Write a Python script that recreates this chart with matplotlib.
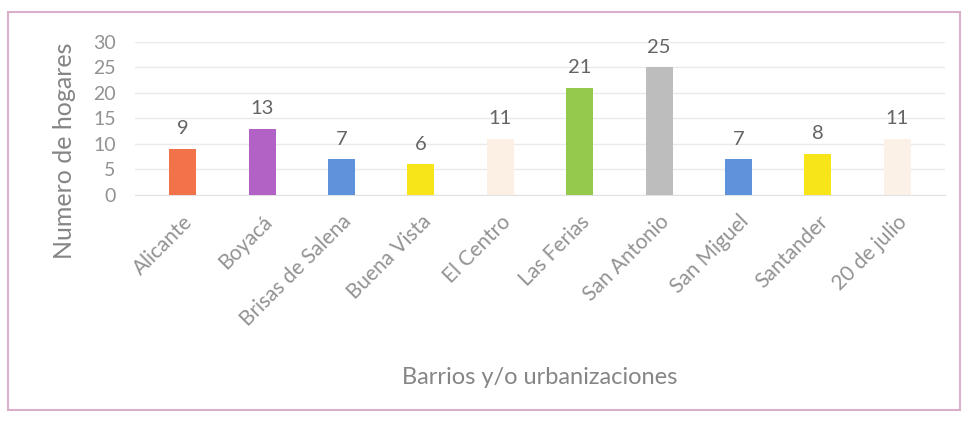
import matplotlib
matplotlib.use("Agg")
from matplotlib import pyplot as plt
from matplotlib.patches import Rectangle

# datos del grafico
barrios = ["Alicante", "Boyacá", "Brisas de Salena", "Buena Vista", "El Centro",
           "Las Ferias", "San Antonio", "San Miguel", "Santander", "20 de julio"]
hogares = [9, 13, 7, 6, 11, 21, 25, 7, 8, 11]
colores = ["#F2734A", "#B162C4", "#5E93DB", "#F7E51A", "#FCEFE4",
           "#95C94E", "#BDBDBD", "#5E93DB", "#F7E51A", "#FCF1E6"]
yticks = [0, 5, 10, 15, 20, 25, 30]

plt.rcParams["font.family"] = ["Lato", "DejaVu Sans"]

fig = plt.figure(figsize=(9.66, 4.23), dpi=100)
fig.patch.set_facecolor("white")

# marco del grafico
marco = Rectangle((8 / 966, 1 - 410 / 423), 952 / 966, 398 / 423,
                  transform=fig.transFigure, fill=False,
                  edgecolor="#D9AFCB", linewidth=1.5)
fig.add_artist(marco)

ax = fig.add_axes([0.140, 0.539, 0.838, 0.362])
x = range(len(barrios))
bars = ax.bar(x, hogares, width=0.34, color=colores, zorder=3)
for b, v in zip(bars, hogares):
    ax.text(b.get_x() + b.get_width() / 2, v + 2.3, str(v),
            ha="center", va="bottom", fontsize=14.5, color="#646464")

ax.set_ylim(0, 30)
ax.set_xlim(-0.6, len(barrios) - 0.4)
ax.set_yticks(yticks)
ax.yaxis.grid(True, color="#EAEAEA", linewidth=1, zorder=0)
for s in ["top", "right", "left"]:
    ax.spines[s].set_visible(False)
ax.spines["bottom"].set_color("#E2E2E2")
ax.tick_params(axis="both", length=0, colors="#929292", labelsize=14)
ax.tick_params(axis="y", pad=14)
ax.set_xticks(list(x))
ax.set_xticklabels(barrios, rotation=45, ha="right", rotation_mode="anchor",
                   fontsize=15, color="#929292")
ax.tick_params(axis="x", pad=12)

ax.set_ylabel("Numero de hogares", fontsize=18, color="#858585")
ax.yaxis.set_label_coords(-0.073, 0.29)
ax.set_xlabel("Barrios y/o urbanizaciones", fontsize=17, color="#858585")
ax.xaxis.set_label_coords(0.5, -1.12)

plt.savefig("out.png", dpi=100)
